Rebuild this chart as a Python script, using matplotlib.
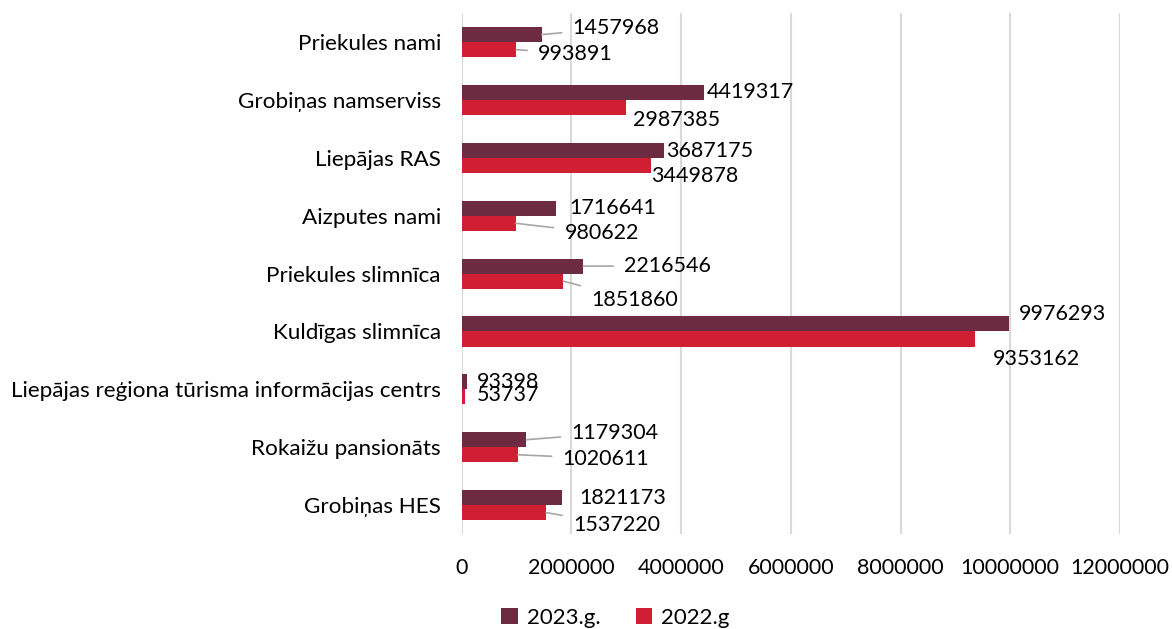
import matplotlib.pyplot as plt
import numpy as np

plt.rcParams['font.family'] = ['Lato', 'DejaVu Sans']

# data
categories = ["Priekules nami", "Grobiņas namserviss", "Liepājas RAS", "Aizputes nami",
              "Priekules slimnīca", "Kuldīgas slimnīca",
              "Liepājas reģiona tūrisma informācijas centrs", "Rokaižu pansionāts", "Grobiņas HES"]
values_2023 = [1457968, 4419317, 3687175, 1716641, 2216546, 9976293, 93398, 1179304, 1821173]
values_2022 = [993891, 2987385, 3449878, 980622, 1851860, 9353162, 53737, 1020611, 1537220]
series_names = ["2023.g.", "2022.g"]
x_ticks = [0, 2000000, 4000000, 6000000, 8000000, 10000000, 12000000]

# label placement (pixel offsets from bar end / bar centre) and leader lines
off_2023 = [(31, 7), (3, 0), (2, -1), (13, 0), (41, 0), (10, 10), (10, 0), (45, 7), (18, 0)]
off_2022 = [(22, -4), (7, -12), (0, -11), (49, -10), (28, -19), (18, -20), (12, 2), (45, -4), (27, -12)]
lead_2023 = [True, False, False, False, True, False, False, True, False]
lead_2022 = [True, False, False, True, True, False, False, True, True]

c23 = "#6D2B42"
c22 = "#D01F32"

fig = plt.figure(figsize=(11.72, 6.29), dpi=100)
ax = fig.add_axes([0.394, 0.151, 0.5616, 0.828])

y = np.arange(len(categories))
h = 0.26
b1 = ax.barh(y - h / 2, values_2023, height=h, color=c23, label=series_names[0])
b2 = ax.barh(y + h / 2, values_2022, height=h, color=c22, label=series_names[1])

ax.set_ylim(len(categories) - 0.5, -0.5)
ax.set_xlim(0, 12000000)
ax.set_xticks(x_ticks)
ax.set_xticklabels([str(t) for t in x_ticks], fontsize=15.5)
ax.set_yticks(y)
ax.set_yticklabels(categories, fontsize=16.2)
ax.tick_params(length=0)
ax.tick_params(axis='x', pad=17)
ax.tick_params(axis='y', pad=15)
for s in ax.spines.values():
    s.set_visible(False)
ax.grid(axis='x', color="#D9D9D9", linewidth=1.5)
ax.set_axisbelow(True)


def put_labels(vals, ys, offs, leads):
    for v, yy, (dx, dy), ld in zip(vals, ys, offs, leads):
        ax.annotate(str(v), xy=(v, yy), xytext=(dx, dy), textcoords='offset pixels',
                    ha='left', va='center', fontsize=15.5, color='black',
                    arrowprops=dict(arrowstyle='-', color='#A6A6A6', lw=1.2,
                                    shrinkA=6, shrinkB=0) if ld else None)


put_labels(values_2023, y - h / 2, off_2023, lead_2023)
put_labels(values_2022, y + h / 2, off_2022, lead_2022)

fig.legend(handles=[b1, b2], loc='center', bbox_to_anchor=(0.525, 0.018), ncol=2,
           frameon=False, fontsize=16, handlelength=0.75, handleheight=0.75,
           handletextpad=0.4, columnspacing=1.6)

fig.savefig("out.png", dpi=100)
